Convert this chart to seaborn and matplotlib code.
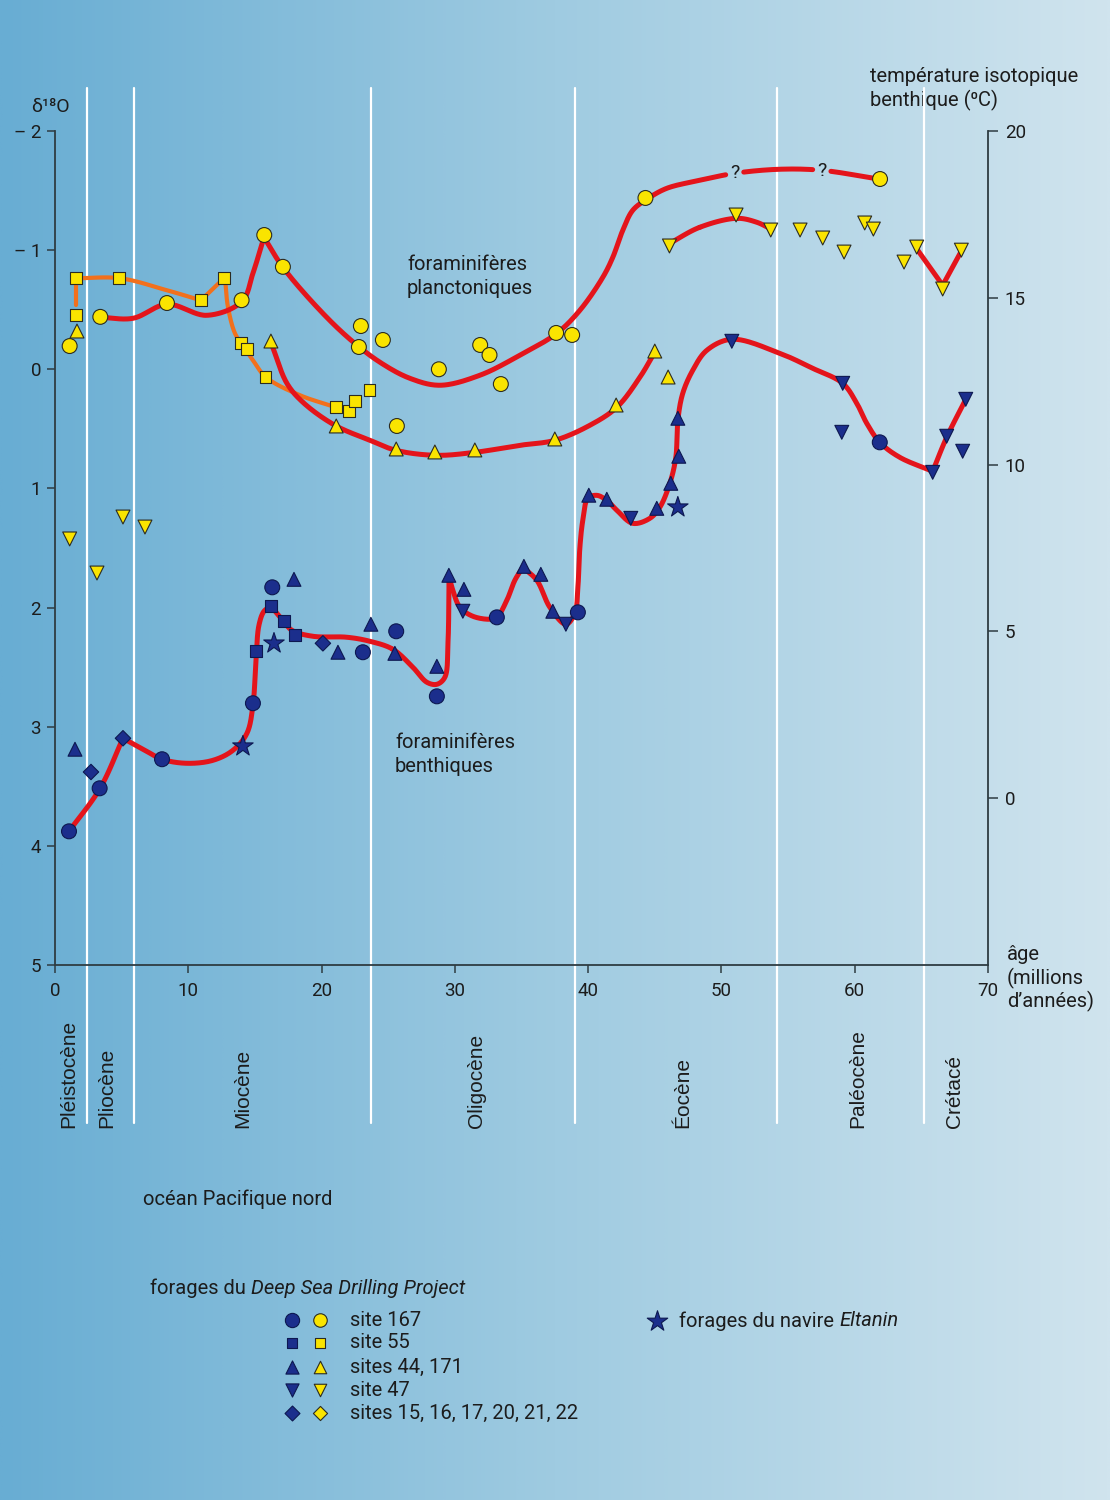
import numpy as np
import pandas as pd
import seaborn as sns
import matplotlib.pyplot as plt
from matplotlib.colors import LinearSegmentedColormap

sns.set_theme(style="white")
plt.rcParams['font.family'] = ['Roboto', 'DejaVu Sans']

# ---------------- data (age in Ma, delta 18O in per mil) ----------------
# planctonic foraminifera (yellow markers)
pl_167_age = [1.1, 3.4, 8.4, 14.0, 15.7, 17.1, 22.95, 22.8, 24.6, 25.65, 28.8, 31.9, 32.6, 33.45, 37.6, 38.8, 44.3, 61.9]
pl_167_d = [-0.195, -0.44, -0.556, -0.58, -1.127, -0.86, -0.363, -0.187, -0.246, 0.476, 0.0, -0.204, -0.12, 0.124, -0.305, -0.288, -1.438, -1.597]
pl_55_age = [1.6, 1.6, 4.8, 10.95, 12.7, 13.95, 14.4, 15.8, 21.1, 22.05, 22.5, 23.6]
pl_55_d = [-0.766, -0.456, -0.766, -0.58, -0.766, -0.22, -0.17, 0.065, 0.317, 0.35, 0.266, 0.174]
pl_44_age = [1.65, 16.2, 21.1, 25.6, 28.5, 31.5, 37.5, 42.1, 45.0, 46.0]
pl_44_d = [-0.321, -0.237, 0.476, 0.669, 0.694, 0.677, 0.585, 0.3, -0.153, 0.065]
pl_47_age = [1.1, 3.15, 5.1, 6.75, 46.1, 51.1, 53.7, 55.9, 57.6, 59.2, 60.75, 61.4, 63.7, 64.65, 66.6, 68.0]
pl_47_d = [1.424, 1.71, 1.24, 1.324, -1.035, -1.295, -1.169, -1.169, -1.102, -0.984, -1.228, -1.177, -0.9, -1.026, -0.674, -1.0]

# benthic foraminifera (navy markers)
bt_167_age = [1.05, 3.35, 8.03, 14.85, 16.3, 23.1, 25.6, 28.65, 33.15, 39.23, 61.88]
bt_167_d = [3.878, 3.517, 3.273, 2.803, 1.83, 2.375, 2.199, 2.745, 2.082, 2.04, 0.613]
bt_55_age = [15.08, 16.2, 17.18, 18.0]
bt_55_d = [2.367, 1.989, 2.115, 2.233]
bt_44_age = [1.5, 17.93, 21.23, 23.7, 25.5, 28.65, 29.55, 30.68, 35.18, 36.45, 37.35, 40.05, 41.4, 45.15, 46.2, 46.8, 46.73]
bt_44_d = [3.189, 1.763, 2.375, 2.14, 2.384, 2.493, 1.729, 1.847, 1.654, 1.721, 2.031, 1.057, 1.091, 1.167, 0.957, 0.73, 0.411]
bt_47_age = [30.6, 38.33, 43.2, 50.78, 59.1, 59.03, 65.85, 66.9, 68.33, 68.1]
bt_47_d = [2.031, 2.14, 1.251, -0.235, 0.118, 0.529, 0.865, 0.562, 0.252, 0.688]
bt_15_age = [2.7, 5.1, 20.1]
bt_15_d = [3.38, 3.097, 2.3]
eltanin_age = [14.1, 16.43, 46.73]
eltanin_d = [3.164, 2.3, 1.158]

# trend curves (knots)
plk_a_age = [3.38, 5.85, 8.4, 11.4, 14.03, 14.85, 15.68]
plk_a_d = [-0.437, -0.428, -0.546, -0.453, -0.57, -0.806, -1.108]
plk_b_age = [15.68, 17.1, 19.88, 22.13, 24.38, 26.63, 28.88, 31.88, 34.88, 37.65, 39.38, 41.1, 41.85, 42.6, 43.35,
             44.4, 45.9, 48.38, 51.0, 54.38, 57.53, 61.88]
plk_b_d = [-1.108, -0.856, -0.495, -0.252, -0.059, 0.076, 0.134, 0.05, -0.118, -0.302, -0.495, -0.772, -0.94, -1.167,
           -1.335, -1.427, -1.519, -1.586, -1.645, -1.679, -1.67, -1.595]
plk_c_age = [16.28, 17.4, 18.6, 21.0, 23.63, 25.58, 28.58, 31.5, 34.88, 37.5, 40.13, 42.15, 43.88, 45.0]
plk_c_d = [-0.201, 0.118, 0.277, 0.47, 0.596, 0.68, 0.722, 0.697, 0.638, 0.596, 0.47, 0.319, 0.067, -0.143]
plk_d_age = [46.13, 48.38, 51.15, 52.65, 53.63]
plk_d_d = [-1.058, -1.192, -1.267, -1.234, -1.183]
plk_v_age = [64.73, 66.6, 67.95]
plk_v_d = [-0.999, -0.705, -0.982]
question_age = [51.0, 57.5]
question_d = [-1.647, -1.664]

org_1_age = [1.58, 1.58]
org_1_d = [-0.537, -0.764]
org_2_age = [1.58, 4.88, 8.4, 10.95]
org_2_d = [-0.764, -0.764, -0.663, -0.579]
org_3_age = [10.95, 12.75]
org_3_d = [-0.579, -0.772]
org_4_age = [12.75, 12.98, 13.5, 14.03, 14.85, 15.83, 18.38, 21.08]
org_4_d = [-0.772, -0.52, -0.302, -0.21, -0.076, 0.067, 0.218, 0.319]

bth_1_age = [1.05, 3.38, 5.1]
bth_1_d = [3.878, 3.517, 3.097]
bth_2_age = [5.1, 6.75, 8.03, 9.9, 11.85, 13.35, 14.4, 14.85, 15.08, 15.3, 15.68, 16.2]
bth_2_d = [3.097, 3.198, 3.273, 3.307, 3.282, 3.198, 3.055, 2.82, 2.443, 2.149, 2.031, 1.989]
bth_3_age = [16.2, 17.03, 17.78, 19.35, 21.9, 23.63, 25.35, 26.85, 27.9, 28.65, 29.25, 29.48, 29.55, 29.56]
bth_3_d = [1.989, 2.098, 2.191, 2.241, 2.249, 2.283, 2.35, 2.501, 2.627, 2.644, 2.585, 2.3, 1.939, 1.737]
bth_4_age = [29.56, 29.85, 30.38, 31.35, 32.63, 33.15, 33.9, 34.5, 35.1]
bth_4_d = [1.737, 1.855, 1.998, 2.073, 2.098, 2.082, 1.939, 1.771, 1.662]
bth_5_age = [35.1, 36.15, 37.13, 38.33, 39.0, 39.23, 39.38, 39.6, 39.98, 40.65, 41.4, 42.15, 43.35, 44.63, 45.38, 46.13,
             46.58, 46.73, 47.1, 47.85, 48.9, 50.78, 54.38, 56.85, 59.1, 60.15, 60.9, 61.88, 63.38, 65.85]
bth_5_d = [1.662, 1.771, 1.998, 2.14, 2.048, 1.83, 1.494, 1.267, 1.083, 1.058, 1.1, 1.183, 1.293, 1.251, 1.158, 0.957,
           0.739, 0.428, 0.201, 0.008, -0.159, -0.252, -0.134, -0.008, 0.118, 0.285, 0.453, 0.613, 0.739, 0.856]
bth_6_age = [65.85, 66.9, 68.33]
bth_6_d = [0.856, 0.571, 0.252]

epoch_bounds = [2.4, 5.93, 23.7, 39.0, 54.2, 65.2]
epoch_names = ['Pléistocène', 'Pliocène', 'Miocène', 'Oligocène', 'Éocène', 'Paléocène', 'Crétacé']
epoch_mid = [1.05, 3.9, 14.1, 31.65, 47.1, 60.23, 67.5]

d18o_ticks = [-2, -1, 0, 1, 2, 3, 4, 5]
d18o_labels = ['– 2', '– 1', '0', '1', '2', '3', '4', '5']
temp_ticks = [0, 5, 10, 15, 20]
age_ticks = [0, 10, 20, 30, 40, 50, 60, 70]

legend_sites = ['site 167', 'site 55', 'sites 44, 171', 'site 47', 'sites 15, 16, 17, 20, 21, 22']

RED = '#e4141b'
ORANGE = '#f2701c'
YELLOW = '#fae400'
NAVY = '#1b2e8c'
TXT = '#1c1c1c'
AXC = '#2e3c42'

markers = {'167': 'o', '55': 's', '44': '^', '47': 'v', '15': 'D', 'elt': '*'}
sizes = {'167': 115, '55': 72, '44': 100, '47': 100, '15': 62, 'elt': 240}


def frame(parts):
    rows = []
    for key, a, d in parts:
        rows.append(pd.DataFrame({'age': a, 'd18o': d, 'site': key}))
    return pd.concat(rows, ignore_index=True)


plank = frame([('167', pl_167_age, pl_167_d), ('55', pl_55_age, pl_55_d),
               ('44', pl_44_age, pl_44_d), ('47', pl_47_age, pl_47_d)])
benth = frame([('167', bt_167_age, bt_167_d), ('55', bt_55_age, bt_55_d),
               ('44', bt_44_age, bt_44_d), ('47', bt_47_age, bt_47_d),
               ('15', bt_15_age, bt_15_d), ('elt', eltanin_age, eltanin_d)])

SX, SY = 13.33, 119.14  # pixel per unit, used only to smooth in screen-like space


def smooth(ages, vals, n=25):
    p = np.column_stack([np.asarray(ages) * SX, np.asarray(vals) * SY])
    if len(p) < 3:
        return np.asarray(ages), np.asarray(vals)
    p = np.vstack([2 * p[0] - p[1], p, 2 * p[-1] - p[-2]])
    out = []
    for i in range(1, len(p) - 2):
        p0, p1, p2, p3 = p[i - 1], p[i], p[i + 1], p[i + 2]
        t0 = 0.0
        t1 = t0 + max(np.linalg.norm(p1 - p0), 1e-6) ** 0.5
        t2 = t1 + max(np.linalg.norm(p2 - p1), 1e-6) ** 0.5
        t3 = t2 + max(np.linalg.norm(p3 - p2), 1e-6) ** 0.5
        t = np.linspace(t1, t2, n)[:, None]
        a1 = (t1 - t) / (t1 - t0) * p0 + (t - t0) / (t1 - t0) * p1
        a2 = (t2 - t) / (t2 - t1) * p1 + (t - t1) / (t2 - t1) * p2
        a3 = (t3 - t) / (t3 - t2) * p2 + (t - t2) / (t3 - t2) * p3
        b1 = (t2 - t) / (t2 - t0) * a1 + (t - t0) / (t2 - t0) * a2
        b2 = (t3 - t) / (t3 - t1) * a2 + (t - t1) / (t3 - t1) * a3
        out.append((t2 - t) / (t2 - t1) * b1 + (t - t1) / (t2 - t1) * b2)
    c = np.vstack(out)
    return c[:, 0] / SX, c[:, 1] / SY


fig = plt.figure(figsize=(11.1, 15), dpi=100)
fig.patch.set_facecolor('#9cc8df')

# background gradient
bg = fig.add_axes([0, 0, 1, 1], zorder=-10)
cmap = LinearSegmentedColormap.from_list('bg', ['#68add3', '#9fcbe1', '#d0e4ee'])
grad = np.tile(np.linspace(0, 1, 512), (8, 1))
bg.imshow(grad, aspect='auto', cmap=cmap, extent=[0, 1, 0, 1])
bg.axis('off')

ax = fig.add_axes([55 / 1110, 1 - 965 / 1500, 933 / 1110, 834 / 1500])
ax.set_facecolor('none')
ax.set_xlim(0, 70)
ax.set_ylim(5, -2)

# epoch boundaries
for b in epoch_bounds:
    ax.axvline(b, ymin=-0.1894, ymax=1.0516, color='white', lw=1.6, clip_on=False, zorder=1)
for name, m in zip(epoch_names, epoch_mid):
    ax.text(m, -0.1954, name, transform=ax.get_xaxis_transform(), rotation=90, ha='center', va='bottom',
            fontsize=15, color=TXT, family=['Liberation Sans', 'DejaVu Sans'], clip_on=False)


def curve(a, d, color, lw, smooth_it=True, gaps=None):
    x, y = smooth(a, d) if smooth_it else (np.asarray(a, float), np.asarray(d, float))
    y = y.astype(float).copy()
    if gaps:
        for g in gaps:
            y[np.abs(x - g) < 0.6] = np.nan
    ax.plot(x, y, color=color, lw=lw, solid_capstyle='round', solid_joinstyle='round', zorder=3)


for a, d in [(org_1_age, org_1_d), (org_3_age, org_3_d)]:
    curve(a, d, ORANGE, 3.0, smooth_it=False)
for a, d in [(org_2_age, org_2_d), (org_4_age, org_4_d)]:
    curve(a, d, ORANGE, 3.0)

curve(plk_a_age, plk_a_d, RED, 3.6)
curve(plk_b_age, plk_b_d, RED, 3.6, gaps=question_age)
curve(plk_c_age, plk_c_d, RED, 3.6)
curve(plk_d_age, plk_d_d, RED, 3.6)
curve(plk_v_age, plk_v_d, RED, 3.6, smooth_it=False)
for a, d in [(bth_1_age, bth_1_d), (bth_2_age, bth_2_d), (bth_3_age, bth_3_d),
             (bth_4_age, bth_4_d), (bth_5_age, bth_5_d), (bth_6_age, bth_6_d)]:
    curve(a, d, RED, 3.6)

for qa, qd in zip(question_age, question_d):
    ax.text(qa, qd, '?', ha='center', va='center', fontsize=14, color=TXT, zorder=4)

sns.scatterplot(data=plank, x='age', y='d18o', style='site', markers=markers, size='site', sizes=sizes,
                color=YELLOW, edgecolor='#2b2b22', linewidth=0.8, legend=False, ax=ax, zorder=5)
sns.scatterplot(data=benth, x='age', y='d18o', style='site', markers=markers, size='site', sizes=sizes,
                color=NAVY, edgecolor='#0d1850', linewidth=0.8, legend=False, ax=ax, zorder=5)

ax.set_xlabel('')
ax.set_ylabel('')
ax.set_xticks(age_ticks)
ax.set_yticks(d18o_ticks)
ax.set_yticklabels(d18o_labels)
for s in ['top', 'right']:
    ax.spines[s].set_visible(False)
for s in ['left', 'bottom']:
    ax.spines[s].set_color(AXC)
    ax.spines[s].set_linewidth(1.3)
ax.tick_params(axis='x', bottom=True, direction='out', length=6, width=1.1, color=AXC, labelsize=13.5,
               labelcolor=TXT, pad=6)
ax.tick_params(axis='y', left=True, direction='out', length=6, width=1.1, color=AXC, labelsize=13.5,
               labelcolor=TXT, pad=4)

ax2 = ax.twinx()
ax2.set_ylim(-5, 20)
ax2.set_yticks(temp_ticks)
ax2.grid(False)
for s in ['top', 'left', 'bottom']:
    ax2.spines[s].set_visible(False)
ax2.spines['right'].set_color(AXC)
ax2.spines['right'].set_linewidth(1.3)
ax2.tick_params(axis='y', right=True, direction='out', length=7, width=1.1, color=AXC, labelsize=13.5,
                labelcolor=TXT, pad=5)

# ---------------- annotations (pixel coordinates) ----------------
ov = fig.add_axes([0, 0, 1, 1], zorder=-5)
ov.set_xlim(0, 1110)
ov.set_ylim(1500, 0)
ov.axis('off')
ov.patch.set_alpha(0)

FS = 14.5
ov.text(31, 107, 'δ¹⁸O', fontsize=14, color=TXT, va='center')
ov.text(870, 77, 'température isotopique', fontsize=FS, color=TXT, va='center')
ov.text(870, 100, 'benthique (⁰C)', fontsize=FS, color=TXT, va='center')
for i, t in enumerate(['âge', '(millions', 'd’années)']):
    ov.text(1007, 955 + 23 * i, t, fontsize=FS, color=TXT, va='center')
ov.text(407, 265, 'foraminifères', fontsize=FS, color=TXT, va='center')
ov.text(407, 289, 'planctoniques', fontsize=FS, color=TXT, va='center')
ov.text(395, 742, 'foraminifères', fontsize=FS, color=TXT, va='center')
ov.text(395, 766, 'benthiques', fontsize=FS, color=TXT, va='center')
ov.text(143, 1199, 'océan Pacifique nord', fontsize=FS, color=TXT, va='center')

renderer = fig.canvas.get_renderer()


def mixed(x, y, parts):
    for s, st in parts:
        t = ov.text(x, y, s, fontsize=FS, color=TXT, va='center', style=st)
        x += t.get_window_extent(renderer=renderer).width


mixed(150, 1288, [('forages du ', 'normal'), ('Deep Sea Drilling Project', 'italic')])
mixed(679, 1321, [('forages du navire ', 'normal'), ('Eltanin', 'italic')])

leg_y = [1320, 1343, 1367, 1390, 1413]
leg_keys = ['167', '55', '44', '47', '15']
leg_size = {'167': 105, '55': 62, '44': 90, '47': 90, '15': 58}
for key, y, lab in zip(leg_keys, leg_y, legend_sites):
    ov.scatter([292], [y], marker=markers[key], s=leg_size[key], color=NAVY, edgecolor='#0d1850', lw=0.8)
    ov.scatter([320], [y], marker=markers[key], s=leg_size[key] * 0.9, color=YELLOW, edgecolor='#2b2b22', lw=0.8)
    ov.text(350, y, lab, fontsize=FS, color=TXT, va='center')
ov.scatter([657], [1321], marker='*', s=240, color=NAVY, edgecolor='#0d1850', lw=0.8)

fig.savefig('out.png', dpi=100)
